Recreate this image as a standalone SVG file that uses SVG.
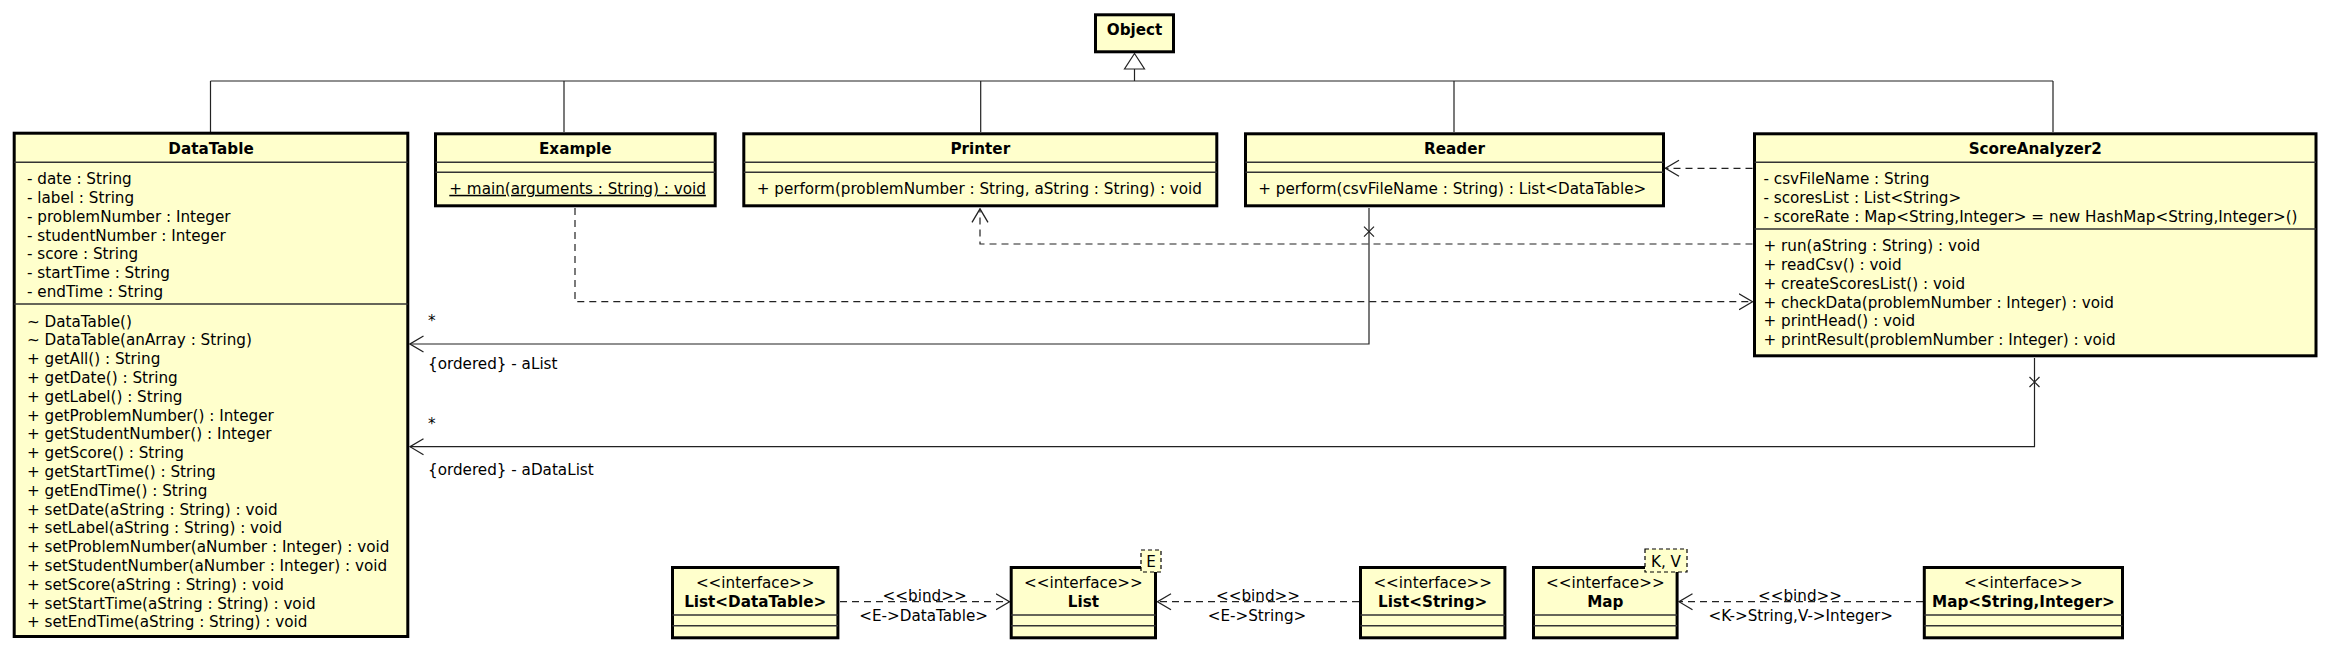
<svg xmlns="http://www.w3.org/2000/svg" width="2332" height="653" viewBox="0 0 2332 653">
<style>
.box{fill:#FFFFCC;stroke:#000;stroke-width:3}
.dv{stroke:#333;stroke-width:1.5}
.t{font-family:"DejaVu Sans",sans-serif;font-size:15.2px;fill:#000}
.b{font-weight:bold}
.c{text-anchor:middle}
.ln{stroke:#222;stroke-width:1.2;fill:none}
.ds{stroke-dasharray:7 5}
.tp{fill:#FFFFCC;stroke:#000;stroke-width:1.2;stroke-dasharray:4 3}
</style>
<defs>
<marker id="open" markerUnits="userSpaceOnUse" viewBox="0 0 15 18" markerWidth="15" markerHeight="18" refX="14" refY="9" orient="auto">
<path d="M0.5,1 L14,9 L0.5,17" fill="none" stroke="#222" stroke-width="1.3"/>
</marker>
</defs>
<rect width="2332" height="653" fill="#fff"/>

<g id="connectors">
<polygon points="1134.5,53.5 1124.5,69 1144.5,69" fill="#fff" stroke="#222" stroke-width="1.2"/>
<path class="ln" d="M1134.5,69 V81 M210.5,81 H2053 M210.5,81 V132 M564,81 V132 M980.7,81 V132 M1454,81 V132 M2053,81 V132"/>
<path class="ln ds" d="M575,208 V301.7 H1752.5" marker-end="url(#open)"/>
<path class="ln ds" d="M1752.5,244 H980 V208.8" marker-end="url(#open)"/>
<path class="ln ds" d="M1752.5,168.3 H1665.5" marker-end="url(#open)"/>
<path class="ln" d="M1369,208 V344 H410" marker-end="url(#open)"/>
<path class="ln" d="M1364,226.7 L1374,236.7 M1374,226.7 L1364,236.7"/>
<path class="ln" d="M2034.5,358 V446.7 H410" marker-end="url(#open)"/>
<path class="ln" d="M2029.5,377 L2039.5,387 M2039.5,377 L2029.5,387"/>
<text class="t" x="428" y="326">*</text>
<text class="t" x="428" y="368.5">{ordered} - aList</text>
<text class="t" x="428" y="428.5">*</text>
<text class="t" x="428" y="475">{ordered} - aDataList</text>
<path class="ln ds" d="M840,601.7 H1009.5" marker-end="url(#open)"/>
<path class="ln ds" d="M1359,601.7 H1157.5" marker-end="url(#open)"/>
<path class="ln ds" d="M1923,601.7 H1679" marker-end="url(#open)"/>
<text class="t c" x="924.6" y="600.5">&lt;&lt;bind&gt;&gt;</text>
<text class="t c" x="923.6" y="620.5">&lt;E-&gt;DataTable&gt;</text>
<text class="t c" x="1258" y="600.5">&lt;&lt;bind&gt;&gt;</text>
<text class="t c" x="1257" y="620.5">&lt;E-&gt;String&gt;</text>
<text class="t c" x="1800" y="600.5">&lt;&lt;bind&gt;&gt;</text>
<text class="t c" x="1800.7" y="620.5">&lt;K-&gt;String,V-&gt;Integer&gt;</text>
</g>

<g id="Object">
<rect class="box" x="1095.5" y="14.8" width="78" height="37"/>
<text class="t b c" x="1134.5" y="34.5">Object</text>
</g>

<g id="DataTable">
<rect class="box" x="14.2" y="133.2" width="393.6" height="503.3"/>
<line class="dv" x1="14.2" y1="162.3" x2="407.8" y2="162.3"/>
<line class="dv" x1="14.2" y1="304" x2="407.8" y2="304"/>
<text class="t b c" x="211" y="153.5">DataTable</text>
<text class="t" x="27" y="183.8">- date : String</text>
<text class="t" x="27" y="202.7">- label : String</text>
<text class="t" x="27" y="221.6">- problemNumber : Integer</text>
<text class="t" x="27" y="240.5">- studentNumber : Integer</text>
<text class="t" x="27" y="259.4">- score : String</text>
<text class="t" x="27" y="278.3">- startTime : String</text>
<text class="t" x="27" y="297.2">- endTime : String</text>
<text class="t" x="27" y="326.5">~ DataTable()</text>
<text class="t" x="27" y="345.3">~ DataTable(anArray : String)</text>
<text class="t" x="27" y="364.1">+ getAll() : String</text>
<text class="t" x="27" y="382.9">+ getDate() : String</text>
<text class="t" x="27" y="401.7">+ getLabel() : String</text>
<text class="t" x="27" y="420.5">+ getProblemNumber() : Integer</text>
<text class="t" x="27" y="439.3">+ getStudentNumber() : Integer</text>
<text class="t" x="27" y="458.1">+ getScore() : String</text>
<text class="t" x="27" y="476.9">+ getStartTime() : String</text>
<text class="t" x="27" y="495.7">+ getEndTime() : String</text>
<text class="t" x="27" y="514.5">+ setDate(aString : String) : void</text>
<text class="t" x="27" y="533.3">+ setLabel(aString : String) : void</text>
<text class="t" x="27" y="552.1">+ setProblemNumber(aNumber : Integer) : void</text>
<text class="t" x="27" y="570.9">+ setStudentNumber(aNumber : Integer) : void</text>
<text class="t" x="27" y="589.7">+ setScore(aString : String) : void</text>
<text class="t" x="27" y="608.5">+ setStartTime(aString : String) : void</text>
<text class="t" x="27" y="627.3">+ setEndTime(aString : String) : void</text>
</g>

<g id="Example">
<rect class="box" x="435.5" y="133.8" width="279.7" height="72"/>
<line class="dv" x1="435.5" y1="162.3" x2="715.2" y2="162.3"/>
<line class="dv" x1="435.5" y1="172.3" x2="715.2" y2="172.3"/>
<text class="t b c" x="575.3" y="153.5">Example</text>
<text class="t" x="449.3" y="193.8" text-decoration="underline">+ main(arguments : String) : void</text>
</g>

<g id="Printer">
<rect class="box" x="743.8" y="133.8" width="473" height="72"/>
<line class="dv" x1="743.8" y1="162.3" x2="1216.8" y2="162.3"/>
<line class="dv" x1="743.8" y1="172.3" x2="1216.8" y2="172.3"/>
<text class="t b c" x="980.3" y="153.5">Printer</text>
<text class="t" x="756.7" y="193.8">+ perform(problemNumber : String, aString : String) : void</text>
</g>

<g id="Reader">
<rect class="box" x="1245.5" y="133.8" width="418" height="72"/>
<line class="dv" x1="1245.5" y1="162.3" x2="1663.5" y2="162.3"/>
<line class="dv" x1="1245.5" y1="172.3" x2="1663.5" y2="172.3"/>
<text class="t b c" x="1454.5" y="153.5">Reader</text>
<text class="t" x="1258.3" y="193.8">+ perform(csvFileName : String) : List&lt;DataTable&gt;</text>
</g>

<g id="ScoreAnalyzer2">
<rect class="box" x="1754.5" y="133.8" width="561.5" height="222"/>
<line class="dv" x1="1754.5" y1="162.3" x2="2316" y2="162.3"/>
<line class="dv" x1="1754.5" y1="229" x2="2316" y2="229"/>
<text class="t b c" x="2035.3" y="153.5">ScoreAnalyzer2</text>
<text class="t" x="1763.5" y="183.8">- csvFileName : String</text>
<text class="t" x="1763.5" y="202.7">- scoresList : List&lt;String&gt;</text>
<text class="t" x="1763.5" y="221.6">- scoreRate : Map&lt;String,Integer&gt; = new HashMap&lt;String,Integer&gt;()</text>
<text class="t" x="1763.5" y="251.2">+ run(aString : String) : void</text>
<text class="t" x="1763.5" y="270">+ readCsv() : void</text>
<text class="t" x="1763.5" y="288.8">+ createScoresList() : void</text>
<text class="t" x="1763.5" y="307.6">+ checkData(problemNumber : Integer) : void</text>
<text class="t" x="1763.5" y="326.4">+ printHead() : void</text>
<text class="t" x="1763.5" y="345.2">+ printResult(problemNumber : Integer) : void</text>
</g>

<g id="ListDataTable">
<rect class="box" x="672.5" y="567.5" width="165.4" height="70.3"/>
<line class="dv" x1="672.5" y1="615" x2="837.9" y2="615"/>
<line class="dv" x1="672.5" y1="625.7" x2="837.9" y2="625.7"/>
<text class="t c" x="755.2" y="588">&lt;&lt;interface&gt;&gt;</text>
<text class="t b c" x="755.2" y="606.5">List&lt;DataTable&gt;</text>
</g>

<g id="List">
<rect class="box" x="1011.2" y="567.5" width="144.3" height="70.3"/>
<line class="dv" x1="1011.2" y1="615" x2="1155.5" y2="615"/>
<line class="dv" x1="1011.2" y1="625.7" x2="1155.5" y2="625.7"/>
<text class="t c" x="1083.4" y="588">&lt;&lt;interface&gt;&gt;</text>
<text class="t b c" x="1083.4" y="606.5">List</text>
<rect class="tp" x="1141" y="550" width="20" height="22"/>
<text class="t c" x="1151" y="567">E</text>
</g>

<g id="ListString">
<rect class="box" x="1360.5" y="567.5" width="144.4" height="70.3"/>
<line class="dv" x1="1360.5" y1="615" x2="1504.9" y2="615"/>
<line class="dv" x1="1360.5" y1="625.7" x2="1504.9" y2="625.7"/>
<text class="t c" x="1432.7" y="588">&lt;&lt;interface&gt;&gt;</text>
<text class="t b c" x="1432.7" y="606.5">List&lt;String&gt;</text>
</g>

<g id="Map">
<rect class="box" x="1533.5" y="567.5" width="143.6" height="70.3"/>
<line class="dv" x1="1533.5" y1="615" x2="1677.1" y2="615"/>
<line class="dv" x1="1533.5" y1="625.7" x2="1677.1" y2="625.7"/>
<text class="t c" x="1605.3" y="588">&lt;&lt;interface&gt;&gt;</text>
<text class="t b c" x="1605.3" y="606.5">Map</text>
<rect class="tp" x="1645" y="549" width="42" height="23"/>
<text class="t c" x="1666" y="567">K, V</text>
</g>

<g id="MapStringInteger">
<rect class="box" x="1924.3" y="567.5" width="198.2" height="70.3"/>
<line class="dv" x1="1924.3" y1="615" x2="2122.5" y2="615"/>
<line class="dv" x1="1924.3" y1="625.7" x2="2122.5" y2="625.7"/>
<text class="t c" x="2023.4" y="588">&lt;&lt;interface&gt;&gt;</text>
<text class="t b c" x="2023.4" y="606.5">Map&lt;String,Integer&gt;</text>
</g>
</svg>
